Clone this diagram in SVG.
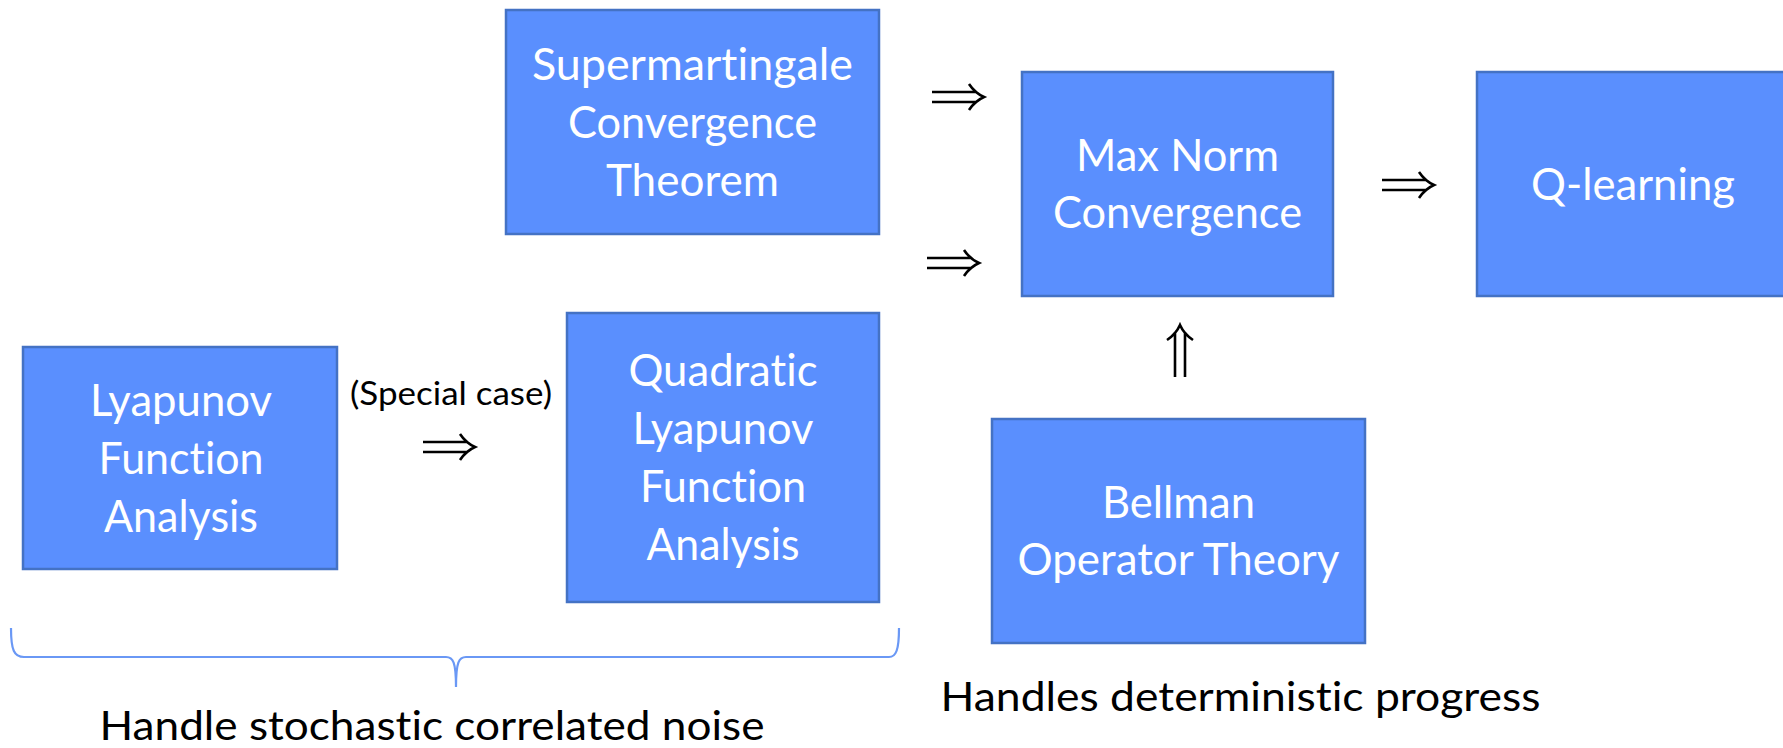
<svg xmlns="http://www.w3.org/2000/svg" xmlns:xlink="http://www.w3.org/1999/xlink" width="1783" height="748" viewBox="0 0 1783 748">
<style>
text{font-variant-ligatures:none;font-feature-settings:"liga" 0,"clig" 0}
.box{fill:#5A8FFE;stroke:#4472C4;stroke-width:2.5}
.bt{font-family:Lato,"Open Sans","Liberation Sans",sans-serif;font-size:44px;fill:#fff;text-anchor:middle}
.lbl{font-family:Lato,"Open Sans","Liberation Sans",sans-serif;fill:#000;text-anchor:middle}
.arr{fill:none;stroke:#000;stroke-width:2.6;stroke-linecap:butt}
.brace{fill:none;stroke:#6A98F5;stroke-width:2.2}
</style>
<defs>
<g id="dbl"><path class="arr" d="M0 -5 H45 M0 5 H45 M37 -13 Q43 -4 52 0 Q43 4 37 13"/></g>
</defs>
<rect width="1783" height="748" fill="#fff"/>
<g id="supermartingale">
<rect class="box" x="506" y="10" width="373" height="224"/>
<text class="bt" x="692.5" y="80" textLength="321" lengthAdjust="spacingAndGlyphs">Supermartingale</text>
<text class="bt" x="692.5" y="138" textLength="249" lengthAdjust="spacingAndGlyphs">Convergence</text>
<text class="bt" x="692.5" y="196" textLength="173" lengthAdjust="spacingAndGlyphs">Theorem</text>
</g>
<g id="maxnorm">
<rect class="box" x="1022" y="72" width="311" height="224"/>
<text class="bt" x="1177.5" y="171" textLength="203" lengthAdjust="spacingAndGlyphs">Max Norm</text>
<text class="bt" x="1177.5" y="228" textLength="249" lengthAdjust="spacingAndGlyphs">Convergence</text>
</g>
<g id="qlearning">
<rect class="box" x="1477" y="72" width="312" height="224"/>
<text class="bt" x="1633" y="200" textLength="204" lengthAdjust="spacingAndGlyphs">Q-learning</text>
</g>
<g id="lyapunov">
<rect class="box" x="23" y="347" width="314" height="222"/>
<text class="bt" x="181" y="416" textLength="182" lengthAdjust="spacingAndGlyphs">Lyapunov</text>
<text class="bt" x="181" y="474" textLength="165" lengthAdjust="spacingAndGlyphs">Function</text>
<text class="bt" x="181" y="532" textLength="154" lengthAdjust="spacingAndGlyphs">Analysis</text>
</g>
<g id="quadratic">
<rect class="box" x="567" y="313" width="312" height="289"/>
<text class="bt" x="723" y="386" textLength="189" lengthAdjust="spacingAndGlyphs">Quadratic</text>
<text class="bt" x="723" y="444" textLength="181" lengthAdjust="spacingAndGlyphs">Lyapunov</text>
<text class="bt" x="723" y="502" textLength="166" lengthAdjust="spacingAndGlyphs">Function</text>
<text class="bt" x="723" y="560" textLength="153" lengthAdjust="spacingAndGlyphs">Analysis</text>
</g>
<g id="bellman">
<rect class="box" x="992" y="419" width="373" height="224"/>
<text class="bt" x="1178.5" y="518" textLength="153" lengthAdjust="spacingAndGlyphs">Bellman</text>
<text class="bt" x="1178.5" y="575" textLength="322" lengthAdjust="spacingAndGlyphs">Operator Theory</text>
</g>
<g id="connectors">
<use xlink:href="#dbl" transform="translate(932,97)"/>
<use xlink:href="#dbl" transform="translate(927,263)"/>
<use xlink:href="#dbl" transform="translate(423,447)"/>
<use xlink:href="#dbl" transform="translate(1382,185)"/>
<use xlink:href="#dbl" transform="translate(1180,377) rotate(-90)"/>
</g>
<g id="labels">
<text class="lbl" x="451" y="405" font-size="32" textLength="202" lengthAdjust="spacingAndGlyphs">(Special case)</text>
<path class="brace" d="M11 628 C11 650 14 657 24 657 H446 C453 657 456 662 456 687 C456 662 459 657 466 657 H889 C896 657 899 650 899 628"/>
<text class="lbl" x="432" y="740" font-size="40" textLength="665" lengthAdjust="spacingAndGlyphs">Handle stochastic correlated noise</text>
<text class="lbl" x="1240.5" y="711" font-size="40" textLength="600" lengthAdjust="spacingAndGlyphs">Handles deterministic progress</text>
</g>
</svg>
